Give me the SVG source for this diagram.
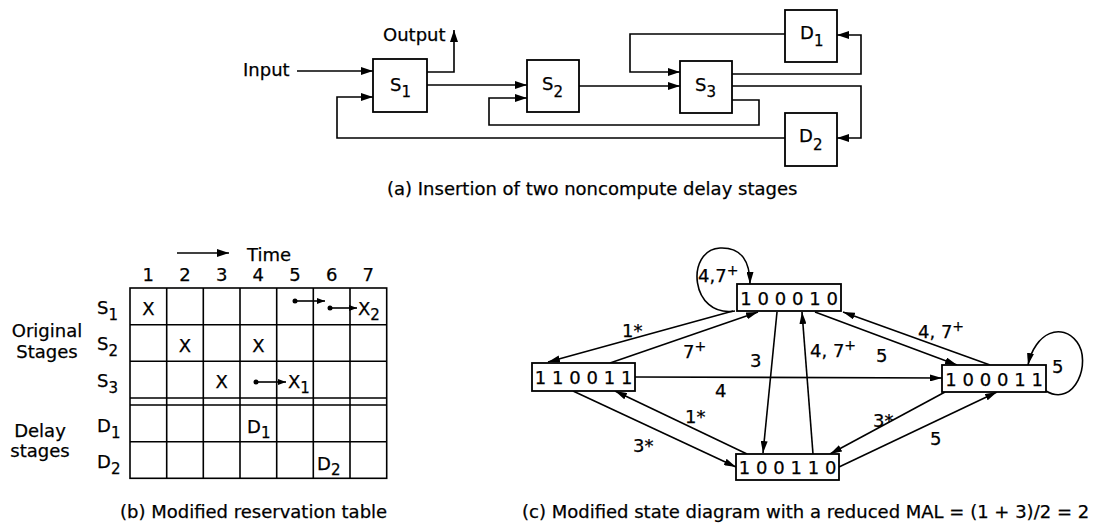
<svg xmlns="http://www.w3.org/2000/svg" width="1095" height="530" viewBox="0 0 1095 530">
<style>
text{font-family:"DejaVu Sans","Liberation Sans",sans-serif;font-size:18px;fill:#000;stroke:#000;stroke-width:0.25px}
.box{fill:#fff;stroke:#000;stroke-width:1.8}
.ln{fill:none;stroke:#000;stroke-width:1.6}
.sub{font-size:15px}
.sup{font-size:14px}
.dig{letter-spacing:5.8px;text-anchor:middle}
.mid{text-anchor:middle}
.grid{stroke:#000;stroke-width:1.6;fill:none}
</style>
<defs>
<marker id="ah" viewBox="0 0 12 8" refX="12" refY="4" markerWidth="12" markerHeight="8" orient="auto" markerUnits="userSpaceOnUse"><path d="M0,0 L12,4 L0,8 z" fill="#000"/></marker>
<marker id="ah2" viewBox="0 0 12 7" refX="12" refY="3.5" markerWidth="12" markerHeight="7" orient="auto" markerUnits="userSpaceOnUse"><path d="M0,0 L12,3.5 L0,7 z" fill="#000"/></marker>
<marker id="ah3" viewBox="0 0 8 6" refX="8" refY="3" markerWidth="8" markerHeight="6" orient="auto" markerUnits="userSpaceOnUse"><path d="M0,0 L8,3 L0,6 z" fill="#000"/></marker>
</defs>
<rect width="1095" height="530" fill="#fff"/>

<!-- Part (a) -->
<g id="part-a">
  <g id="a-connectors">
    <path class="ln" d="M297,71 H373" marker-end="url(#ah)"/>
    <path class="ln" d="M427,72 H454 V30" marker-end="url(#ah)"/>
    <path class="ln" d="M427,85 H527" marker-end="url(#ah)"/>
    <path class="ln" d="M579,86 H680" marker-end="url(#ah)"/>
    <path class="ln" d="M785,34 H630 V72 H680" marker-end="url(#ah)"/>
    <path class="ln" d="M732,74 H861 V35 H837" marker-end="url(#ah)"/>
    <path class="ln" d="M732,86 H861 V138 H837" marker-end="url(#ah)"/>
    <path class="ln" d="M732,100 H759 V125 H489 V98 H527" marker-end="url(#ah)"/>
    <path class="ln" d="M785,138 H337 V97 H373" marker-end="url(#ah)"/>
  </g>
  <g id="S1"><rect class="box" x="373" y="59" width="54" height="53"/><text x="390" y="91">S<tspan class="sub" dy="6">1</tspan></text></g>
  <g id="S2"><rect class="box" x="527" y="60" width="52" height="52"/><text x="542" y="90">S<tspan class="sub" dy="7">2</tspan></text></g>
  <g id="S3"><rect class="box" x="680" y="61" width="52" height="52"/><text x="695" y="91">S<tspan class="sub" dy="6">3</tspan></text></g>
  <g id="D1"><rect class="box" x="785" y="10" width="52" height="52"/><text x="800" y="39">D<tspan class="sub" dy="7">1</tspan></text></g>
  <g id="D2"><rect class="box" x="785" y="113" width="52" height="53"/><text x="799" y="142">D<tspan class="sub" dy="8">2</tspan></text></g>
  <text x="243" y="76">Input</text>
  <text x="383" y="41">Output</text>
  <text x="387" y="195">(a) Insertion of two noncompute delay stages</text>
</g>

<!-- Part (b) -->
<g id="part-b">
  <path class="ln" d="M177,253 H229" marker-end="url(#ah)"/>
  <text x="247" y="261">Time</text>
  <g>
    <text x="148.3" y="281" class="mid">1</text>
    <text x="185" y="281" class="mid">2</text>
    <text x="221.7" y="281" class="mid">3</text>
    <text x="258.3" y="281" class="mid">4</text>
    <text x="295" y="281" class="mid">5</text>
    <text x="331.7" y="281" class="mid">6</text>
    <text x="368.3" y="281" class="mid">7</text>
  </g>
  <g id="reservation-table">
    <rect class="grid" x="130" y="288" width="256.7" height="190.3"/>
    <path class="grid" d="M130,324.7 H386.7 M130,361.3 H386.7 M130,398 H386.7 M130,405 H386.7 M130,441.7 H386.7"/>
    <path class="grid" d="M166.7,288 V478.3 M203.3,288 V478.3 M240,288 V478.3 M276.7,288 V478.3 M313.3,288 V478.3 M350,288 V478.3"/>
  </g>
  <text x="97" y="314">S<tspan class="sub" dy="6">1</tspan></text>
  <text x="97" y="350">S<tspan class="sub" dy="6">2</tspan></text>
  <text x="97" y="387">S<tspan class="sub" dy="6">3</tspan></text>
  <text x="97" y="432">D<tspan class="sub" dy="6">1</tspan></text>
  <text x="97" y="468">D<tspan class="sub" dy="6">2</tspan></text>
  <text x="47" y="337" class="mid">Original</text>
  <text x="47" y="358" class="mid">Stages</text>
  <text x="40" y="437" class="mid">Delay</text>
  <text x="40" y="457" class="mid">stages</text>
  <text x="148.3" y="315" class="mid">X</text>
  <text x="185" y="352" class="mid">X</text>
  <text x="258.3" y="352" class="mid">X</text>
  <text x="221.7" y="388" class="mid">X</text>
  <circle cx="295" cy="301" r="2.5"/>
  <path class="ln" d="M295,301 H325" marker-end="url(#ah3)"/>
  <circle cx="330" cy="308" r="2.5"/>
  <path class="ln" d="M330,308 H357" marker-end="url(#ah3)"/>
  <text x="358" y="315">X<tspan class="sub" dy="5">2</tspan></text>
  <circle cx="256" cy="382" r="2.5"/>
  <path class="ln" d="M256,382 H286" marker-end="url(#ah3)"/>
  <text x="288" y="388">X<tspan class="sub" dy="5">1</tspan></text>
  <text x="247" y="433">D<tspan class="sub" dy="5">1</tspan></text>
  <text x="317" y="470">D<tspan class="sub" dy="5">2</tspan></text>
  <text x="120" y="518">(b) Modified reservation table</text>
</g>

<!-- Part (c) -->
<g id="part-c">
  <g id="c-connectors">
    <path class="ln" d="M733,311 L548,362" marker-end="url(#ah2)"/>
    <path class="ln" d="M610,363 L758,312" marker-end="url(#ah2)"/>
    <path class="ln" d="M777,312 L763,453" marker-end="url(#ah2)"/>
    <path class="ln" d="M813,454 L802,312" marker-end="url(#ah2)"/>
    <path class="ln" d="M635,377 L942,378" marker-end="url(#ah2)"/>
    <path class="ln" d="M815,312 L957,365" marker-end="url(#ah2)"/>
    <path class="ln" d="M990,365 L843,312" marker-end="url(#ah2)"/>
    <path class="ln" d="M573,391 L736,467" marker-end="url(#ah2)"/>
    <path class="ln" d="M747,454 L615,391" marker-end="url(#ah2)"/>
    <path class="ln" d="M945,392 L830,454" marker-end="url(#ah2)"/>
    <path class="ln" d="M839,467 L997,392" marker-end="url(#ah2)"/>
    <path class="ln" d="M735,311 C690,318 685,250 720,248 C742,247 750,262 750,284" marker-end="url(#ah2)"/>
    <path class="ln" d="M1046,391 C1075,408 1092,362 1077,342 C1062,322 1035,332 1028,365" marker-end="url(#ah2)"/>
  </g>
  <g id="s100010"><rect class="box" x="737" y="284" width="104" height="27"/><text class="dig" x="791.9" y="305">100010</text></g>
  <g id="s110011"><rect class="box" x="532" y="363" width="103" height="28"/><text class="dig" x="586.4" y="384">110011</text></g>
  <g id="s100011"><rect class="box" x="942" y="365" width="104" height="27"/><text class="dig" x="996.9" y="386">100011</text></g>
  <g id="s100110"><rect class="box" x="736" y="454" width="103" height="26"/><text class="dig" x="790.4" y="474">100110</text></g>
  <g id="c-labels">
    <text x="698" y="282">4,7<tspan class="sup" dy="-7">+</tspan></text>
    <text x="622" y="337">1*</text>
    <text x="683" y="358">7<tspan class="sup" dy="-7">+</tspan></text>
    <text x="750" y="367">3</text>
    <text x="715" y="397">4</text>
    <text x="810" y="357">4, 7<tspan class="sup" dy="-7">+</tspan></text>
    <text x="876" y="362">5</text>
    <text x="918" y="338">4, 7<tspan class="sup" dy="-7">+</tspan></text>
    <text x="1052" y="373">5</text>
    <text x="633" y="452">3*</text>
    <text x="685" y="423">1*</text>
    <text x="873" y="427">3*</text>
    <text x="930" y="445">5</text>
  </g>
  <text x="522" y="518">(c) Modified state diagram with a reduced MAL = (1 + 3)/2 = 2</text>
</g>
</svg>
